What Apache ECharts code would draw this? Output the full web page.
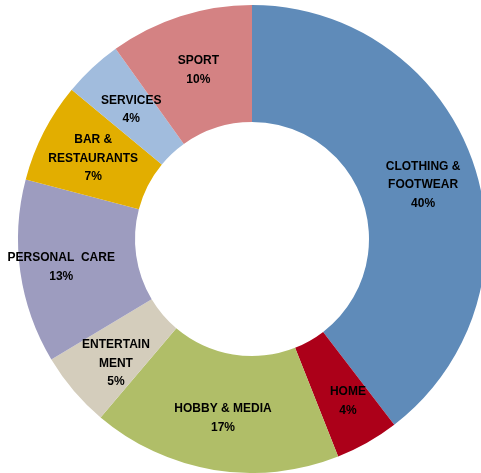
<!DOCTYPE html>
<html><head><meta charset="utf-8">
<script src="https://cdn.jsdelivr.net/npm/echarts@6/dist/echarts.min.js"></script>
<style>html,body{margin:0;padding:0;background:#fff}#c{width:481px;height:473px}</style>
</head><body><div id="c"></div>
<script>
const categories = ['CLOTHING &\nFOOTWEAR', 'HOME', 'HOBBY & MEDIA', 'ENTERTAIN\nMENT', 'PERSONAL  CARE', 'BAR &\nRESTAURANTS', 'SERVICES', 'SPORT'];
const shares = [39.6, 4.4, 17.2, 5.2, 12.7, 6.9, 4.1, 9.9];
const colors = ['#5F8BB9', '#AC0019', '#B0BE68', '#D4CDBC', '#9D9CBF', '#E2AE00', '#A1BCDD', '#D48283'];
const labelShift = [[2, 3], [8, 7], [0, 3], [0, 9], [-14, 3], [0, 1], [1, 1], [1, 1]];

const chart = echarts.init(document.getElementById('c'), null, {renderer: 'canvas'});
chart.setOption({
  animation: false,
  series: [{
    type: 'pie',
    center: [252, 239],
    radius: [117, 234],
    startAngle: 90,
    clockwise: true,
    avoidLabelOverlap: false,
    label: {
      show: true,
      position: 'inside',
      color: '#000',
      fontFamily: 'Liberation Sans, Arial, sans-serif',
      fontWeight: 'bold',
      fontSize: 12,
      lineHeight: 18.5,
      align: 'center',
      formatter: p => p.name + '\n' + Math.round(p.value) + '%'
    },
    labelLine: {show: false},
    itemStyle: {borderWidth: 0},
    emphasis: {disabled: true},
    data: categories.map((c, i) => ({
      name: c, value: shares[i],
      itemStyle: {color: colors[i]},
      label: {offset: labelShift[i]}
    }))
  }]
});
</script></body></html>
